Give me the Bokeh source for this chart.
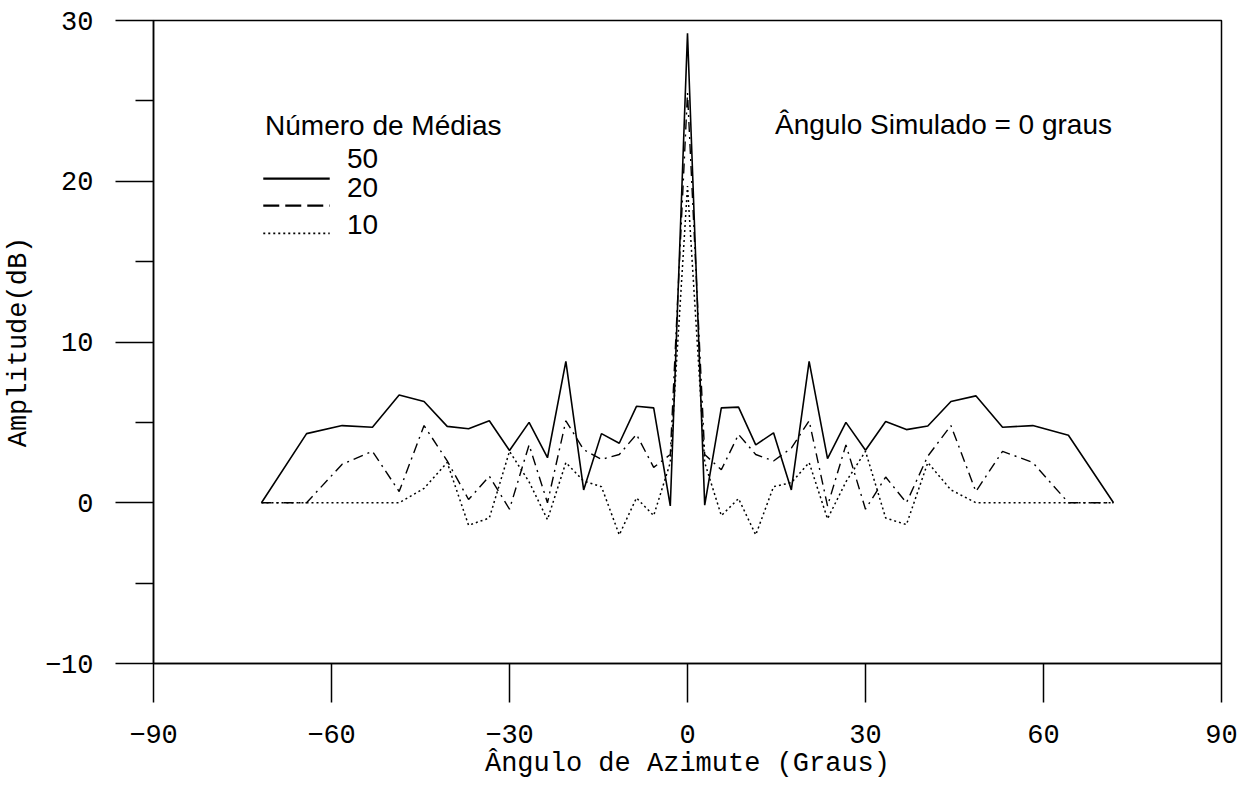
from bokeh.plotting import figure
from bokeh.models import FixedTicker, Range1d, Label
from bokeh.embed import file_html
from bokeh.resources import INLINE

# Azimuth angles (degrees) of the computed points
angles = [-71.8, -64.2, -58.2, -53.1, -48.6, -44.4, -40.5, -36.9, -33.4, -30.0,
          -26.7, -23.6, -20.5, -17.5, -14.5, -11.5, -8.6, -5.7, -2.9, 0.0,
          2.9, 5.7, 8.6, 11.5, 14.5, 17.5, 20.5, 23.6, 26.7, 30.0,
          33.4, 36.9, 40.5, 44.4, 48.6, 53.1, 58.2, 64.2, 71.8]

# Amplitude (dB) for each number of averages
amp_50 = [0, 4.3, 4.8, 4.7, 6.7, 6.3, 4.75, 4.6, 5.1, 3.25,
          5.0, 2.8, 8.8, 0.8, 4.3, 3.7, 6.0, 5.9, -0.2, 29.2,
          -0.15, 5.9, 5.95, 3.6, 4.35, 0.8, 8.8, 2.75, 5.0, 3.27,
          5.05, 4.55, 4.77, 6.3, 6.65, 4.7, 4.8, 4.2, 0]
amp_20 = [0, 0, 2.4, 3.2, 0.7, 4.8, 2.6, 0.2, 1.65, -0.4,
          3.6, 0.0, 5.1, 3.3, 2.7, 3.0, 4.25, 2.2, 3.0, 25.5,
          3.0, 2.05, 4.25, 3.0, 2.6, 3.4, 5.1, -0.2, 3.6, -0.4,
          1.6, 0.0, 2.9, 4.8, 0.7, 3.2, 2.5, 0, 0]
amp_10 = [0, 0, 0, 0, 0, 0.9, 2.5, -1.4, -0.95, 3.2,
          1.3, -1.05, 2.5, 1.35, 1.0, -2.0, 0.3, -0.8, 2.5, 19.7,
          2.5, -0.8, 0.26, -2.0, 1.0, 1.25, 2.5, -1.0, 1.3, 3.2,
          -0.95, -1.36, 2.5, 0.8, 0, 0, 0, 0, 0]

x_ticks = [-90, -60, -30, 0, 30, 60, 90]
y_ticks = [-10, 0, 10, 20, 30]
y_minor = [-5, 5, 15, 25]

legend_title = "Número de Médias"
legend_labels = ["50", "20", "10"]
annotation = "Ângulo Simulado = 0 graus"

MONO = "Liberation Mono"
SANS = "Liberation Sans"

p = figure(width=1251, height=788, output_backend="svg", toolbar_location=None,
           x_range=Range1d(-90, 90), y_range=Range1d(-10, 30),
           min_border_left=153, min_border_right=30, min_border_top=20,
           min_border_bottom=125)
p.grid.visible = False
p.outline_line_color = "black"
p.outline_line_width = 1.5
p.background_fill_color = "white"
p.border_fill_color = "white"

p.xaxis.ticker = FixedTicker(ticks=x_ticks)
p.yaxis.ticker = FixedTicker(ticks=y_ticks, minor_ticks=y_minor)
for ax in (p.xaxis[0], p.yaxis[0]):
    ax.axis_line_color = "black"
    ax.axis_line_width = 1.5
    ax.major_tick_line_color = "black"
    ax.major_tick_line_width = 1.5
    ax.major_tick_in = 0
    ax.minor_tick_in = 0
    ax.major_label_text_font = MONO
    ax.major_label_text_font_size = "27px"
    ax.major_label_text_color = "black"
    ax.axis_label_text_font = MONO
    ax.axis_label_text_font_size = "27px"
    ax.axis_label_text_font_style = "normal"
    ax.axis_label_text_color = "black"
p.xaxis.major_tick_out = 39
p.xaxis.minor_tick_line_color = None
p.xaxis.major_label_standoff = 22
p.xaxis.axis_label = "Ângulo de Azimute (Graus)"
p.xaxis.axis_label_standoff = 3
p.yaxis.major_tick_out = 38
p.yaxis.minor_tick_out = 18
p.yaxis.minor_tick_line_color = "black"
p.yaxis.minor_tick_line_width = 1.5
p.yaxis.major_label_standoff = 22
p.yaxis.axis_label = "Amplitude(dB)"
p.yaxis.axis_label_standoff = 8

p.line(angles, amp_50, line_color="black", line_width=1.6)
p.line(angles, amp_20, line_color="black", line_width=1.4, line_dash="10 5 2 5")
p.line(angles, amp_10, line_color="black", line_width=1.5, line_dash="2 3")

# Custom legend (as in the original)
p.add_layout(Label(x=-71.2, y=22.5, text=legend_title, text_font=SANS,
                   text_font_size="28px", text_color="black"))
legend_y_text = [20.8, 19.04, 16.74]
legend_y_line = [20.16, 18.48, 16.76]
dashes = ["solid", "16 6", "2 3"]
for lab, yt, yl, dsh in zip(legend_labels, legend_y_text, legend_y_line, dashes):
    p.add_layout(Label(x=-57.4, y=yt, text=lab, text_font=SANS,
                       text_font_size="28px", text_color="black"))
    p.line([-71.5, -60.3], [yl, yl], line_color="black",
           line_width=2.2 if dsh != "2 3" else 1.6, line_dash=dsh)

p.add_layout(Label(x=14.75, y=22.57, text=annotation, text_font=SANS,
                   text_font_size="28px", text_color="black"))

open("out.html", "w").write(file_html(p, INLINE))
